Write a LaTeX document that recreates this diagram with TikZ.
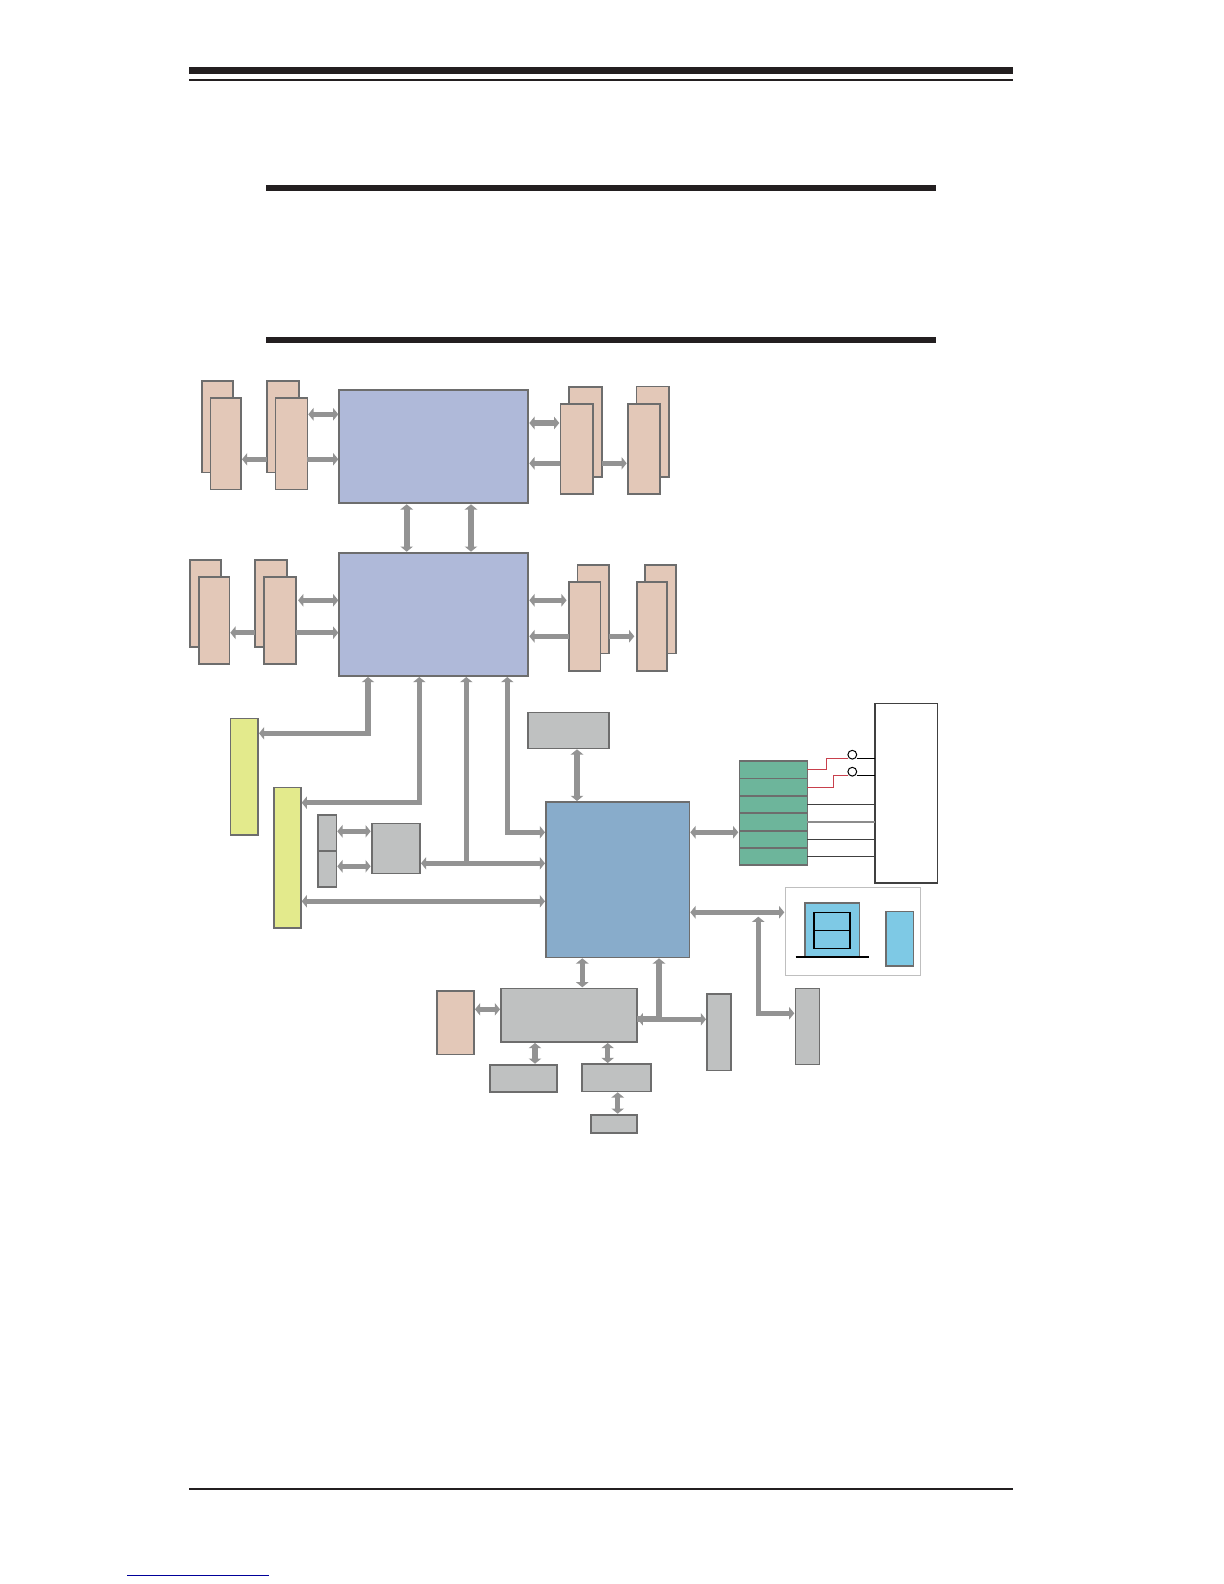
\documentclass[tikz,border=0pt]{standalone}
\usetikzlibrary{arrows.meta,fit}
\definecolor{peach}{HTML}{E3C8B8}
\definecolor{lav}{HTML}{AFB9D9}
\definecolor{steel}{HTML}{88ACCB}
\definecolor{grn}{HTML}{6DB59B}
\definecolor{yel}{HTML}{E3EA8C}
\definecolor{gry}{HTML}{BFC1C1}
\definecolor{sky}{HTML}{7EC9E5}
\definecolor{edge}{HTML}{6D6D6D}
\definecolor{arr}{HTML}{939393}
\definecolor{ink}{HTML}{231F20}
\definecolor{redline}{HTML}{C8404C}
\newcommand{\bx}[6]{\node[#2,fit={(#3,#4)(#5,#6)}] (#1) {};}
\tikzset{
  base/.style={draw=edge,line width=0.8pt,inner sep=0pt,outer sep=0pt},
  dimm/.style={base,fill=peach},
  cpu/.style={base,fill=lav,line width=0.9pt},
  pch/.style={base,fill=steel},
  gbox/.style={base,fill=gry},
  ybox/.style={base,fill=yel},
  grnbox/.style={base,fill=grn},
  skybox/.style={base,fill=sky},
  wbox/.style={draw=black!75,line width=0.6pt,fill=white,inner sep=0pt,outer sep=0pt},
  lbox/.style={draw=black!25,line width=0.4pt,fill=white,inner sep=0pt,outer sep=0pt},
  inbox/.style={draw=black,line width=0.6pt,inner sep=0pt,outer sep=0pt},
  port/.style={draw=black,line width=0.5pt,fill=white,circle,minimum size=4.4pt,inner sep=0pt,outer sep=0pt},
  conn/.style={draw=arr,line width=2.7pt,miter limit=10,shorten <=0.5pt,shorten >=0.5pt},
  both/.style={conn,{Triangle[length=2.6pt,width=6.2pt]}-{Triangle[length=2.6pt,width=6.2pt]}},
  tohead/.style={conn,shorten <=0pt,-{Triangle[length=2.6pt,width=6.2pt]}},
  wire/.style={line width=0.6pt,draw=black!75},
  redw/.style={line width=0.5pt,draw=redline},
  barfill/.style={fill=ink}
}
\begin{document}
\begin{tikzpicture}[x=0.5pt,y=-0.5pt]
\useasboundingbox (0,0) rectangle (1224,1584);
% page rules
\fill[barfill] (189,67) rectangle (1013,74);
\fill[barfill] (189,79) rectangle (1013,81);
\fill[barfill] (266,185) rectangle (936,191);
\fill[barfill] (266,337) rectangle (936,343);
\fill[barfill] (189,1488) rectangle (1013,1490);
\fill[fill=blue!60!black] (127,1574.5) rectangle (269,1575.7);
% memory modules, back row first
\bx{a1}{dimm}{201.7}{380.7}{232.7}{472.3}
\bx{a2}{dimm}{210.3}{398}{241}{489.3}
\bx{b1}{dimm}{266.7}{380.7}{299}{472.3}
\bx{b2}{dimm}{275.3}{398}{307.3}{489.3}
\bx{c1}{dimm}{569}{386.7}{601.7}{477}
\bx{c2}{dimm}{560.3}{403.7}{593}{494}
\bx{d1}{dimm}{636.3}{386.3}{668.7}{476.7}
\bx{d2}{dimm}{627.7}{403.7}{659.7}{494}
\bx{e1}{dimm}{190}{560}{220.7}{646.7}
\bx{e2}{dimm}{199}{577}{229.3}{664}
\bx{f1}{dimm}{255}{560}{287}{646.7}
\bx{f2}{dimm}{263.7}{577}{295.7}{664}
\bx{g1}{dimm}{577.3}{564.7}{608.7}{653.3}
\bx{g2}{dimm}{569}{581.7}{600.3}{670.7}
\bx{h1}{dimm}{645}{564.7}{675.7}{653.3}
\bx{h2}{dimm}{636.7}{581.7}{667}{670.7}
% processors
\bx{cpua}{cpu}{339.3}{390.3}{528.3}{503.3}
\bx{cpub}{cpu}{339.3}{552.7}{528.3}{676}
% chipset and peripherals
\bx{pch}{pch}{546}{802}{689.3}{957.3}
\bx{ya}{ybox}{230.3}{718.3}{258}{835}
\bx{yb}{ybox}{273.7}{787.3}{300.7}{927.7}
\bx{sa}{gbox}{317.7}{814.7}{336.3}{850.7}
\bx{sb}{gbox}{317.7}{850.7}{336.3}{887}
\bx{sq}{gbox}{371.7}{823.3}{420}{873.3}
\bx{top}{gbox}{527.7}{712.3}{609}{748.3}
\bx{r1}{grnbox}{739.3}{761}{807.3}{778.3}
\bx{r2}{grnbox}{739.3}{778.3}{807.3}{795.7}
\bx{r3}{grnbox}{739.3}{795.7}{807.3}{813}
\bx{r4}{grnbox}{739.3}{813}{807.3}{830.7}
\bx{r5}{grnbox}{739.3}{830.7}{807.3}{848}
\bx{r6}{grnbox}{739.3}{848}{807.3}{865}
\bx{wb}{wbox}{875}{703.3}{937.3}{883}
\bx{sata}{lbox}{785.3}{887.7}{920.3}{975.3}
\bx{mon}{skybox}{805}{903}{859.3}{956.7}
\bx{ma}{inbox}{814}{912.3}{850}{930.3}
\bx{mb}{inbox}{814}{930.3}{850}{948.3}
\bx{sk}{skybox}{885.7}{911.3}{913.3}{965.7}
\bx{ich}{gbox}{501}{988.3}{636.7}{1042}
\bx{pe}{dimm}{437}{990.7}{474}{1054.3}
\bx{la}{gbox}{489.7}{1064.7}{556.7}{1092}
\bx{lb}{gbox}{582}{1064}{650.7}{1091.3}
\bx{lc}{gbox}{591}{1114.7}{636.7}{1133}
\bx{ta}{gbox}{707}{994}{731}{1070.3}
\bx{tb}{gbox}{795.3}{988.3}{819.3}{1064.3}
\draw[black,line width=1.1pt] (mon.south west -| 795.7,0) -- (mon.south east -| 868.7,0);
% upper processor links
\path[both] (b2.east |- 0,414.3) -- (cpua.west |- 0,414.3);
\path[tohead] (b2.east |- 0,459.3) -- (cpua.west |- 0,459.3);
\path[tohead] (b1.west |- 0,459.3) -- (a2.east |- 0,459.3);
\path[both] (cpua.east |- 0,423) -- (c2.west |- 0,423);
\path[tohead] (c2.west |- 0,463.3) -- (cpua.east |- 0,463.3);
\path[tohead] (c1.east |- 0,463.3) -- (d2.west |- 0,463.3);
\path[both,line width=3pt] (cpua.south -| 406.7,0) -- (cpub.north -| 406.7,0);
\path[both,line width=3pt] (cpua.south -| 471,0) -- (cpub.north -| 471,0);
% lower processor links
\path[both,shorten <=1.2pt] (f2.east |- 0,600.3) -- (cpub.west |- 0,600.3);
\path[tohead] (f2.east |- 0,632.7) -- (cpub.west |- 0,632.7);
\path[tohead] (f1.west |- 0,632.7) -- (e2.east |- 0,632.7);
\path[both,shorten >=1.2pt] (cpub.east |- 0,600.3) -- (g2.west |- 0,600.3);
\path[tohead] (g2.west |- 0,636.3) -- (cpub.east |- 0,636.3);
\path[tohead,shorten >=1.2pt] (g1.east |- 0,636.3) -- (h2.west |- 0,636.3);
% processor to expansion and chipset
\coordinate (jb) at (466.3,863.3);
\path[both] (cpub.south -| 368,0) |- (ya.east |- 0,733.3);
\path[both] (cpub.south -| 419.3,0) |- (yb.east |- 0,802.7);
\path[both] (cpub.south -| 507.3,0) |- (pch.west |- 0,832.3);
\path[tohead] (jb) -- (cpub.south -| jb);
\path[both] (sq.east |- jb) -- (pch.west |- jb);
\path[both] (yb.east |- 0,901.3) -- (pch.west |- 0,901.3);
\path[both] (sa.east |- 0,831.3) -- (sq.west |- 0,831.3);
\path[both] (sb.east |- 0,866.3) -- (sq.west |- 0,866.3);
\path[both] (top.south -| 577,0) -- (pch.north -| 577,0);
% chipset right side
\coordinate (js) at (758.3,915.7);
\path[both] (pch.east |- 0,832.3) -- (r5.west |- 0,832.3);
\path[both] (pch.east |- 0,912.3) -- (sata.west |- 0,912.3);
\path[both] (tb.west |- 0,1013.3) -| (js);
\path[both] (pch.south -| 582.3,0) -- (ich.north -| 582.3,0);
\path[tohead,line width=3pt] (ich.east |- 0,1019.3) -| (pch.south -| 659,0);
\path[both] (ich.east |- 0,1019.3) -- (ta.west |- 0,1019.3);
\path[both] (pe.east |- 0,1009.3) -- (ich.west |- 0,1009.3);
\path[both] (ich.south -| 535,0) -- (la.north -| 535,0);
\path[both] (ich.south -| 607.7,0) -- (lb.north -| 607.7,0);
\path[both] (lb.south -| 617.7,0) -- (lc.north -| 617.7,0);
% ports
\node[port] (p1) at (852.3,754.7) {};
\node[port] (p2) at (852.3,771.7) {};
\coordinate (ra) at (848,758.3);
\coordinate (rb) at (848,775.3);
\coordinate (ka) at (856.7,758.3);
\coordinate (kb) at (856.7,775.3);
\draw[redw] (r1.east) -- (r1.east -| 826.7,0) |- (ra);
\draw[redw] (r2.east) -- (r2.east -| 833.3,0) |- (rb);
\draw[line width=0.6pt,black] (ka) -- (wb.west |- ka);
\draw[line width=0.6pt,black] (kb) -- (wb.west |- kb);
\draw[wire] (r3.east) -- (wb.west |- r3.east);
\draw[wire,black!45,line width=0.8pt] (r4.east) -- (wb.west |- r4.east);
\draw[wire] (r5.east) -- (wb.west |- r5.east);
\draw[wire] (r6.east) -- (wb.west |- r6.east);
\end{tikzpicture}
\end{document}
